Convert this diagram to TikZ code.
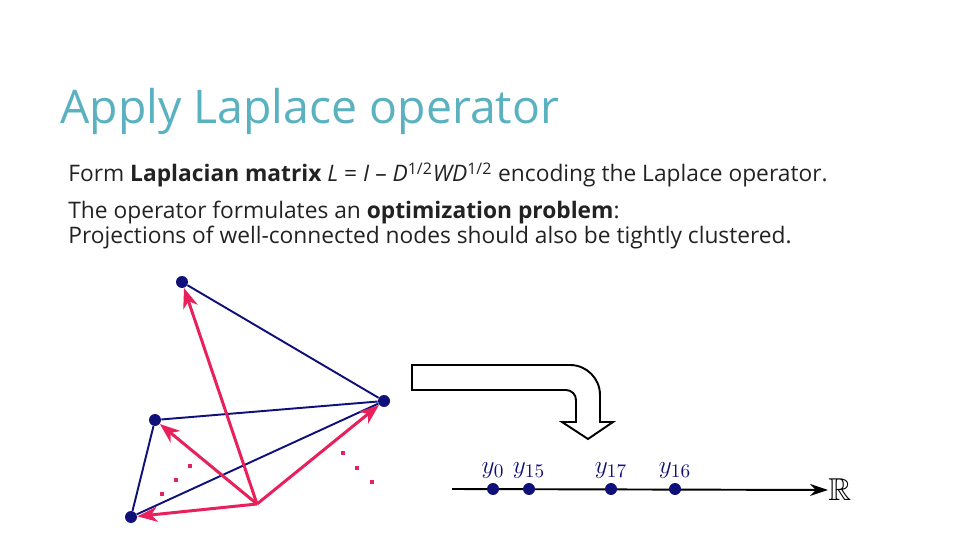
\documentclass[tikz,border=0pt]{standalone}
\usepackage{amssymb}
\usepackage{fontspec}
\setmainfont{Open Sans}
\usetikzlibrary{arrows.meta,positioning}
\definecolor{titlecolor}{HTML}{5AB2C0}
\definecolor{textcolor}{HTML}{222222}
\definecolor{vertexcolor}{HTML}{10107A}
\definecolor{projcolor}{HTML}{E8205C}
\tikzset{
  vertex/.style={
    circle,
    fill=vertexcolor,
    inner sep=0pt,
    minimum size=0.24cm
  },
  edge/.style={
    draw=vertexcolor,
    line width=1.1pt
  },
  proj/.style={
    draw=projcolor,
    line width=1.7pt,
    -{Stealth[length=4mm,width=3mm,inset=1.2mm]}
  },
  bodytext/.style={
    anchor=base west,
    inner sep=0pt,
    text=textcolor,
    font=\fontsize{12.95}{15}\selectfont
  },
  ylabel/.style={font=\fontsize{15}{17}\selectfont, text=vertexcolor, inner sep=2pt}
}

\begin{document}
\begin{tikzpicture}[x=0.02cm,y=-0.02cm]
  \path[use as bounding box] (0,0) rectangle (960,540);

  % title and text
  \node[anchor=base west, inner sep=0pt, text=titlecolor,
        font=\fontsize{26.4}{30}\selectfont] (title) at (60,124)
    {Apply Laplace operator};
  \node[bodytext] (line1) at (68,182)
    {Form \textbf{Laplacian matrix} \textit{L} = \textit{I} – \textit{D}\textsuperscript{1/2}\textit{WD}\textsuperscript{1/2} encoding the Laplace operator.};
  \node[bodytext] (line2) at (68,219)
    {The operator formulates an \textbf{optimization problem}:};
  \node[bodytext] (line3) at (68,244)
    {Projections of well-connected nodes should also be tightly clustered.};

  % graph
  \node[vertex] (top) at (182,282) {};
  \node[vertex] (right) at (384,401) {};
  \node[vertex] (left) at (155,420) {};
  \node[vertex] (bottom) at (131,517) {};
  \coordinate (origin) at (257,504);

  \draw[edge] (top) -- (right);
  \draw[edge] (left) -- (right);
  \draw[edge] (left) -- (bottom);
  \draw[edge] (bottom) -- (right);

  \draw[proj] (origin) -- (top);
  \draw[proj] (origin) -- (left);
  \draw[proj] (origin) -- (bottom);
  \draw[proj] (origin) -- (right);

  \foreach \px/\py in {190/466,176/480,162/494,343/453,357/468,372/482}
    \fill[projcolor] (\px-2.4,\py-2.4) rectangle (\px+2.4,\py+2.4);

  % bent arrow
  \draw[line width=1.1pt] (412,365) [rounded corners=0.6cm] -- (600,365)
    [sharp corners] -- (600,422) -- (613,422) -- (588,439) -- (562,422)
    -- (576,422) [rounded corners=0.2cm] -- (576,390)
    [sharp corners] -- (412,390) -- cycle;

  % real line
  \node[inner sep=0pt, anchor=west, font=\fontsize{18}{20}\selectfont]
    (reals) at (828,490) {$\mathbb{R}$};
  \coordinate (start) at (452,489);
  \draw[line width=1.1pt, -{Stealth[length=3.6mm,width=2.4mm]}] (start) -- (reals.west);

  \node[vertex, label={[ylabel]above:$y_{0}$}] (y0) at (493,489) {};
  \node[vertex, label={[ylabel]above:$y_{15}$}] (y15) at (529,489) {};
  \node[vertex, label={[ylabel]above:$y_{17}$}] (y17) at (611,489) {};
  \node[vertex, label={[ylabel]above:$y_{16}$}] (y16) at (675,489) {};
\end{tikzpicture}
\end{document}
